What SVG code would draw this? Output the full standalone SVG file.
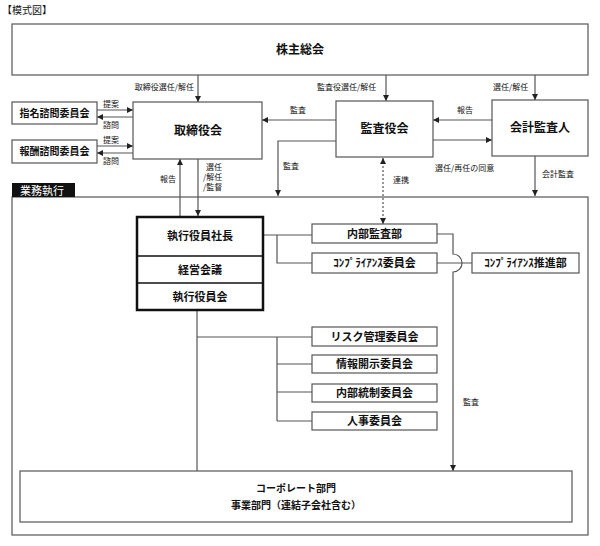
<svg xmlns="http://www.w3.org/2000/svg" width="600" height="546" viewBox="0 0 600 546">
<defs>
<marker id="ah" viewBox="0 0 6 6" refX="6" refY="3" markerWidth="6" markerHeight="6" markerUnits="userSpaceOnUse" orient="auto-start-reverse">
<path d="M0,0 L6,3 L0,6 z" fill="#222"/>
</marker>
<style>
.box{fill:#fff;stroke:#555;stroke-width:1.2}
.thick{fill:#fff;stroke:#111;stroke-width:2.5}
.ln{fill:none;stroke:#555;stroke-width:1.2}
.arr{fill:none;stroke:#555;stroke-width:1.2;marker-end:url(#ah)}
.dot{fill:none;stroke:#555;stroke-width:1.2;stroke-dasharray:2,2;marker-start:url(#ah);marker-end:url(#ah)}
text{font-family:"Noto Sans CJK JP","Noto Sans",sans-serif;fill:#111}
.n{font-size:12px;font-weight:700;text-anchor:middle}
.m{font-size:11px;font-weight:700;text-anchor:middle}
.s{font-size:10px;font-weight:700;text-anchor:middle}
.l{font-size:8px}
</style>
</defs>
<rect width="600" height="546" fill="#fff"/>
<text x="2" y="14" style="font-size:10px">【模式図】</text>

<g id="exec-area">
<rect class="box" x="12" y="197" width="576" height="338"/>
<rect x="12" y="183" width="63" height="14" fill="#111"/>
<text x="42" y="194.5" style="font-size:11px;fill:#fff;text-anchor:middle">業務執行</text>
</g>

<g id="connectors">
<path class="arr" d="M198,75 V102"/>
<path class="arr" d="M386,75 V101"/>
<path class="arr" d="M535,75 V100"/>
<path class="arr" d="M97,110 H133"/>
<path class="arr" d="M133,117 H97"/>
<path class="arr" d="M97,146 H133"/>
<path class="arr" d="M133,153 H97"/>
<path class="arr" d="M336,120 H262"/>
<path class="arr" d="M336,141 H278 V196"/>
<path class="arr" d="M492,120 H433"/>
<path class="arr" d="M433,140 H492"/>
<path class="arr" d="M535,156 V196"/>
<path class="dot" d="M383,158 V224"/>
<path class="arr" d="M180,217 V159"/>
<path class="arr" d="M198,159 V216"/>
<path class="ln" d="M263,235 H312 M277,235 V263 H312"/>
<path class="arr" d="M437,234 H453 V254 A9,9 0 0 1 453,272 V471"/>
<path class="ln" d="M437,263 H472"/>
<path class="ln" d="M197,310 V471"/>
<path class="ln" d="M197,337 H312 M277,337 V421 M277,364 H312 M277,392 H312 M277,421 H312"/>
</g>

<g id="labels">
<text class="l" x="194" y="90" text-anchor="end">取締役選任/解任</text>
<text class="l" x="317" y="90">監査役選任/解任</text>
<text class="l" x="493" y="90">選任/解任</text>
<text class="l" x="103" y="107">提案</text>
<text class="l" x="103" y="128">諮問</text>
<text class="l" x="103" y="143">提案</text>
<text class="l" x="103" y="164">諮問</text>
<text class="l" x="290" y="113">監査</text>
<text class="l" x="283" y="169">監査</text>
<text class="l" x="457" y="113">報告</text>
<text class="l" x="435" y="171">選任/再任の同意</text>
<text class="l" x="542" y="177">会計監査</text>
<text class="l" x="393" y="183">連携</text>
<text class="l" x="160" y="182">報告</text>
<text class="l" x="206" y="170">選任</text>
<text class="l" x="203" y="180">/解任</text>
<text class="l" x="203" y="190">/監督</text>
<text class="l" x="463" y="405">監査</text>
</g>

<g id="shareholders"><rect class="box" x="12" y="24" width="576" height="51"/><text class="n" x="300" y="54">株主総会</text></g>
<g id="board"><rect class="box" x="133" y="102" width="129" height="57"/><text class="n" x="198" y="135">取締役会</text></g>
<g id="nomination"><rect class="box" x="12" y="102" width="85" height="22"/><text class="s" x="54.5" y="117">指名諮問委員会</text></g>
<g id="compensation"><rect class="box" x="12" y="140" width="85" height="23"/><text class="s" x="54.5" y="155">報酬諮問委員会</text></g>
<g id="auditors"><rect class="box" x="336" y="101" width="97" height="56"/><text class="n" x="384.5" y="133">監査役会</text></g>
<g id="accounting-auditor"><rect class="box" x="492" y="100" width="96" height="56"/><text class="n" x="540" y="132">会計監査人</text></g>

<g id="president-block">
<rect class="thick" x="137" y="217" width="126" height="93"/>
<line x1="137" y1="256" x2="263" y2="256" stroke="#111" stroke-width="1.5"/>
<line x1="137" y1="283" x2="263" y2="283" stroke="#111" stroke-width="1.5"/>
<text class="m" x="200" y="240">執行役員社長</text>
<text class="m" x="200" y="274">経営会議</text>
<text class="m" x="200" y="301">執行役員会</text>
</g>

<g id="internal-audit"><rect class="box" x="312" y="224" width="125" height="19"/><text class="m" x="374.5" y="238">内部監査部</text></g>
<g id="compliance-committee"><rect class="box" x="312" y="253" width="125" height="20"/><text class="m" x="374.5" y="267">ｺﾝﾌﾟﾗｲｱﾝｽ委員会</text></g>
<g id="compliance-dept"><rect class="box" x="472" y="253" width="107" height="20"/><text class="m" x="525.5" y="267">ｺﾝﾌﾟﾗｲｱﾝｽ推進部</text></g>
<g id="risk"><rect class="box" x="312" y="327" width="125" height="19"/><text class="m" x="374.5" y="341">リスク管理委員会</text></g>
<g id="disclosure"><rect class="box" x="312" y="355" width="125" height="18"/><text class="m" x="374.5" y="368">情報開示委員会</text></g>
<g id="internal-control"><rect class="box" x="312" y="384" width="125" height="18"/><text class="m" x="374.5" y="397">内部統制委員会</text></g>
<g id="hr"><rect class="box" x="312" y="412" width="125" height="18"/><text class="m" x="374.5" y="425">人事委員会</text></g>
<g id="divisions">
<rect class="box" x="20" y="471" width="552" height="51"/>
<text class="s" x="296" y="492">コーポレート部門</text>
<text class="s" x="296" y="509">事業部門（連結子会社含む）</text>
</g>
</svg>
